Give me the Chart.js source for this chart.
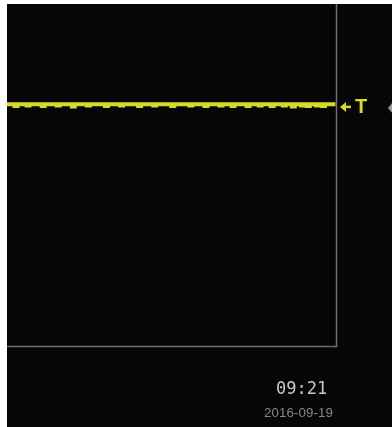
<!DOCTYPE html>
<html>
<head>
<meta charset="utf-8">
<script src="https://cdn.jsdelivr.net/npm/chart.js@4.4.1/dist/chart.umd.min.js"></script>
<style>
  html, body { margin: 0; padding: 0; background: #ffffff; width: 392px; height: 427px; overflow: hidden; }
  #screen { position: absolute; left: 7px; top: 4px; width: 385px; height: 423px; background: #060606; }
  #c { position: absolute; left: 0; top: 0; }
  .time { position: absolute; left: 269px; top: 374px; font-family: "DejaVu Sans Mono", monospace; font-size: 17px; color: #c8c8c8; }
  .date { position: absolute; left: 257px; top: 401px; font-family: "Liberation Sans", sans-serif; font-size: 13.3px; color: #878787; letter-spacing: 0.1px; }
</style>
</head>
<body>
<div id="screen">
  <canvas id="c" width="385" height="423"></canvas>
  <div class="time">09:21</div>
  <div class="date">2016-09-19</div>
</div>
<script>
// Channel trace samples (volts/div units)
const ch1Values = [
  1.66,1.66,1.66,1.62,1.66,1.66,1.66,1.63,1.66,1.66,
  1.66,1.66,1.62,1.66,1.66,1.66,1.66,1.63,1.66,1.66,
  1.66,1.66,1.61,1.66,1.66,1.66,1.66,1.63,1.66,1.66,
  1.66,1.66,1.66,1.62,1.66,1.66,1.66,1.66,1.63,1.66,
  1.66,1.66,1.66,1.66,1.62,1.66,1.66,1.66,1.66,1.63,
  1.66,1.66,1.66,1.66,1.66,1.62,1.66,1.66,1.66,1.66,
  1.66,1.63,1.66,1.66,1.66,1.66,1.62,1.66,1.66,1.66,
  1.66,1.63,1.66,1.66,1.66,1.62,1.66,1.66,1.66,1.66,
  1.62,1.66,1.66,1.66,1.63,1.66,1.66,1.66,1.62,1.66,
  1.66,1.66,1.63,1.66,1.66,1.61,1.66,1.66,1.63,1.66,
  1.62,1.66,1.66,1.63,1.66,1.62,1.66,1.66,1.66,1.66
];
const sampleIndex = ch1Values.map((v, i) => i);
const triggerLevel = 1.60;
const timeLabel = "09:21";
const dateLabel = "2016-09-19";

const traceColor = '#d6da2b';

const borderPlugin = {
  id: 'scopeFrame',
  afterDatasetsDraw(chart) {
    const { ctx, chartArea: a, scales } = chart;
    ctx.save();
    ctx.strokeStyle = '#6e6e6e';
    ctx.lineWidth = 1.5;
    ctx.beginPath();
    ctx.moveTo(a.right - 0.5, a.top);
    ctx.lineTo(a.right - 0.5, a.bottom - 0.5);
    ctx.lineTo(a.left, a.bottom - 0.5);
    ctx.stroke();
    // trigger marker
    const y = scales.y.getPixelForValue(triggerLevel);
    ctx.fillStyle = traceColor;
    ctx.strokeStyle = traceColor;
    ctx.lineWidth = 2.5;
    ctx.beginPath();
    ctx.moveTo(a.right + 3, y);
    ctx.lineTo(a.right + 9, y - 5);
    ctx.lineTo(a.right + 9, y + 5);
    ctx.closePath();
    ctx.fill();
    ctx.beginPath();
    ctx.moveTo(a.right + 8, y);
    ctx.lineTo(a.right + 14, y);
    ctx.stroke();
    ctx.font = 'bold 20px "Liberation Sans", sans-serif';
    ctx.textBaseline = 'middle';
    ctx.fillText('T', a.right + 18, y + 1);
    // off-screen marker
    ctx.fillStyle = '#9a9a9a';
    ctx.beginPath();
    ctx.moveTo(a.right + 51, y + 1);
    ctx.lineTo(a.right + 56, y - 5);
    ctx.lineTo(a.right + 61, y + 1);
    ctx.lineTo(a.right + 56, y + 7);
    ctx.closePath();
    ctx.fill();
    ctx.restore();
  }
};

new Chart(document.getElementById('c'), {
  type: 'line',
  data: {
    labels: sampleIndex,
    datasets: [{
      data: ch1Values,
      borderColor: traceColor,
      borderWidth: 4,
      pointRadius: 0,
      stepped: 'middle',
      fill: false
    }]
  },
  options: {
    responsive: false,
    animation: false,
    events: [],
    layout: { padding: { left: 0, top: 0, right: 55, bottom: 80 } },
    plugins: { legend: { display: false }, tooltip: { enabled: false }, title: { display: false } },
    scales: {
      x: { type: 'linear', display: false, min: 0, max: 109.5 },
      y: { display: false, min: -4, max: 4 }
    }
  },
  plugins: [borderPlugin]
});
</script>
</body>
</html>
